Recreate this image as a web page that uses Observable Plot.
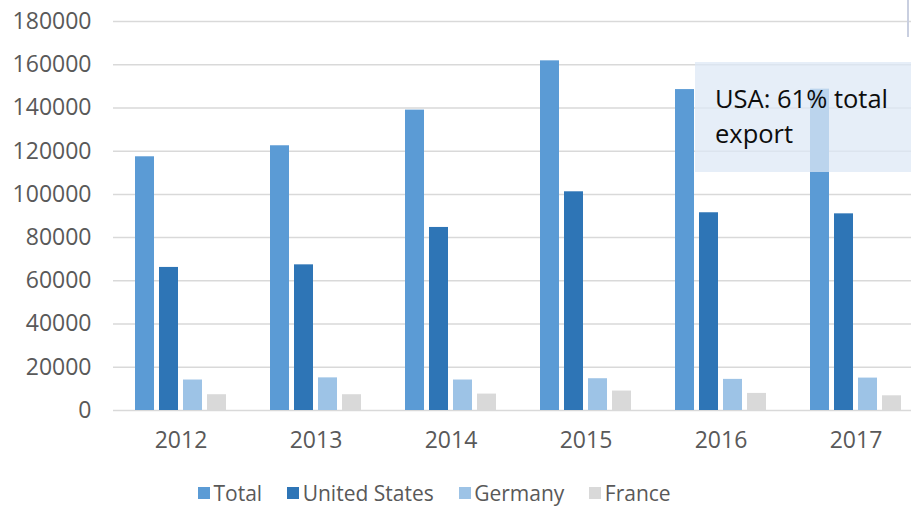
<!DOCTYPE html>
<html><head><meta charset="utf-8">
<script src="https://cdn.jsdelivr.net/npm/d3@7"></script>
<script src="https://cdn.jsdelivr.net/npm/@observablehq/plot@0.6"></script>
<style>
html,body{margin:0;padding:0;background:#fff;}
#wrap{position:relative;width:911px;height:506px;overflow:hidden;font-family:"Open Sans",sans-serif;}
#chart svg{display:block;overflow:visible;}
#legend{position:absolute;left:198px;top:481px;height:24px;line-height:24px;}
#legend .lg-swatches{display:flex !important;align-items:center !important;min-height:24px !important;height:24px;line-height:24px !important;margin:0 !important;font-family:"Open Sans",sans-serif !important;font-size:21px !important;color:#595959 !important;flex-wrap:nowrap !important;}
#legend .lg-swatch{display:inline-flex !important;align-items:center !important;margin-right:25px !important;white-space:nowrap;line-height:24px !important;}
#legend .lg-swatch > svg{margin-right:3.5px !important;}
#note{position:absolute;background:rgba(221,232,245,0.74);box-sizing:border-box;padding:18.5px 0 0 20px;font-family:"Open Sans",sans-serif;font-size:25.5px;line-height:35px;color:#0d0d0d;white-space:nowrap;}
#edge{position:absolute;left:907px;top:0;width:1.5px;height:37px;background:#C9CFE0;}
</style></head><body><div id="wrap"><div id="chart"></div><div id="legend"></div><div id="note"></div><div id="edge"></div></div>
<script>
const years = ["2012","2013","2014","2015","2016","2017"];
const seriesNames = ["Total","United States","Germany","France"];
const totalValues = [117400,122500,139000,161800,148500,148700];
const usValues = [66200,67400,84700,101200,91500,91000];
const germanyValues = [14100,15100,14100,14700,14400,15000];
const franceValues = [7300,7300,7600,9000,7900,6800];
const seriesColors = ["#5B9BD5","#2E75B6","#9DC3E6","#D9D9D9"];
const yTicks = [0,20000,40000,60000,80000,100000,120000,140000,160000,180000];
const annotationLines = ["USA: 61% total","export"];
const annotationTop = 160800, annotationBottom = 110000, annotationFromYear = "2016";

const seriesValues = [totalValues, usValues, germanyValues, franceValues];
const rows = years.flatMap((yr, i) => seriesNames.map((s, j) => ({year: yr, series: s, value: seriesValues[j][i]})));

const chart = Plot.plot({
  width: 911, height: 460,
  marginLeft: 112, marginRight: 0, marginTop: 21, marginBottom: 50,
  style: {fontFamily: '"Open Sans", sans-serif', fontSize: "23px", color: "#595959", background: "transparent"},
  fx: {domain: years, range: [112, 924.7], padding: 0, label: null, tickSize: 0, tickPadding: 21, axis: "bottom"},
  x: {domain: seriesNames, axis: null, paddingInner: 0.2, paddingOuter: 0.865},
  y: {domain: [0, 180000], ticks: yTicks, tickSize: 0, tickPadding: 22, label: null, tickFormat: d => String(d)},
  color: {domain: seriesNames, range: seriesColors},
  marks: [
    Plot.ruleY(yTicks, {stroke: "#D9D9D9", strokeWidth: 1.5}),
    Plot.barY(rows, {fx: "year", x: "series", y: "value", fill: "series"})
  ]
});
document.getElementById("chart").appendChild(chart);

const lg = Plot.legend({color: {domain: seriesNames, range: seriesColors}, swatchSize: 12, className: "lg"});
document.getElementById("legend").appendChild(lg);

(function placeNote() {
  const fxS = chart.scale("fx"), xS = chart.scale("x"), yS = chart.scale("y");
  const boxLeft = fxS.apply(annotationFromYear) + (xS.apply("Total") - xS.range[0]) + xS.bandwidth + 1;
  const boxTop = yS.apply(annotationTop), boxBottom = yS.apply(annotationBottom);
  const note = document.getElementById("note");
  note.style.left = boxLeft + "px";
  note.style.top = boxTop + "px";
  note.style.width = (960 - boxLeft) + "px";
  note.style.height = (boxBottom - boxTop) + "px";
  note.innerHTML = annotationLines.map(t => `<div>${t}</div>`).join("");
})();
</script></body></html>
